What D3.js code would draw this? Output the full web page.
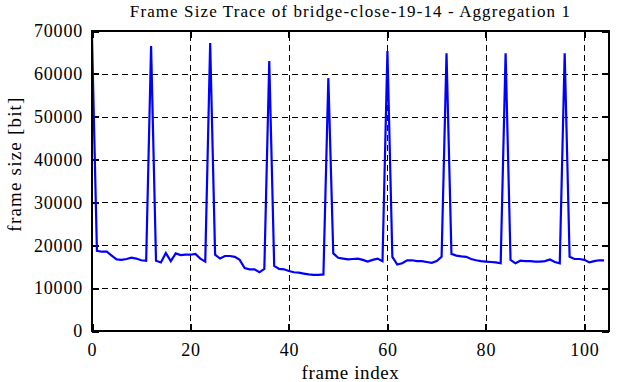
<!DOCTYPE html>
<meta charset="utf-8">
<style>
body{margin:0;background:#fff;}
text{font-family:"Liberation Serif","Times New Roman",serif;fill:#000;}
.grid line{stroke:#000;stroke-width:1px;stroke-dasharray:6,4;shape-rendering:crispEdges;}
.axis path{display:none;}
.axis line{stroke:#000;stroke-width:2px;shape-rendering:crispEdges;}
.axis text{font-size:18px;letter-spacing:0.8px;}
.frame{fill:none;stroke:#000;stroke-width:2px;shape-rendering:crispEdges;}
.trace{fill:none;stroke:#0000ff;stroke-width:2.2px;stroke-linejoin:miter;}
</style>
<body>
<script src="https://d3js.org/d3.v7.min.js"></script>
<script>

// frame sizes in bit, one per frame index 0..104
var frameSize=[
68500,18700,18500,18500,17600,16700,16600,16800,17100,16900,16500,16400,
66500,16400,16000,18200,16300,18100,17700,17800,17800,18000,16900,16200,
67200,17800,16900,17500,17500,17300,16600,14700,14400,14400,13700,14500,
63000,15200,14500,14400,14000,13700,13600,13400,13200,13100,13100,13200,
59000,18100,17100,16900,16700,16800,16900,16600,16200,16600,16900,16300,
65300,17300,15500,15800,16500,16500,16300,16300,16100,15900,16300,17300,
64800,18000,17600,17400,17300,16800,16500,16300,16200,16100,16000,15800,
64800,16600,15800,16400,16300,16300,16200,16200,16300,16700,16100,15800,
64800,17300,16800,16800,16600,16000,16300,16500,16500
];
var xTicks=[0,20,40,60,80,100];
var yTicks=[0,10000,20000,30000,40000,50000,60000,70000];

var W=627,H=382;
var m={left:92,right:18,top:31,bottom:51};

var svg=d3.select("body").append("svg").attr("width",W).attr("height",H);

var x=d3.scaleLinear().domain([0,105]).range([m.left,W-m.right]);
var y=d3.scaleLinear().domain([0,70000]).range([H-m.bottom,m.top]);

// dashed grid
var grid=svg.append("g").attr("class","grid");
grid.selectAll(".gx").data(xTicks.slice(1)).enter().append("line")
	.attr("x1",d=>Math.round(x(d))+0.5).attr("x2",d=>Math.round(x(d))+0.5)
	.attr("y1",y(0)).attr("y2",y(70000));
grid.selectAll(".gy").data(yTicks.slice(1,-1)).enter().append("line")
	.attr("y1",d=>Math.round(y(d))+0.5).attr("y2",d=>Math.round(y(d))+0.5)
	.attr("x1",x(0)).attr("x2",x(105));

// inside ticks on all four sides
svg.append("g").attr("class","axis").attr("transform","translate("+x(0)+",0)")
	.call(d3.axisLeft(y).tickValues(yTicks).tickSizeInner(-7).tickSizeOuter(0).tickPadding(9).tickFormat(d3.format("d")));
svg.append("g").attr("class","axis").attr("transform","translate("+x(105)+",0)")
	.call(d3.axisRight(y).tickValues(yTicks).tickSizeInner(-7).tickSizeOuter(0).tickFormat(""));
svg.append("g").attr("class","axis").attr("transform","translate(0,"+y(0)+")")
	.call(d3.axisBottom(x).tickValues(xTicks).tickSizeInner(-7).tickSizeOuter(0).tickPadding(12).tickFormat(d3.format("d")));
svg.append("g").attr("class","axis").attr("transform","translate(0,"+y(70000)+")")
	.call(d3.axisTop(x).tickValues(xTicks).tickSizeInner(-7).tickSizeOuter(0).tickFormat(""));

// trace
var line=d3.line().x((d,i)=>x(i)).y(d=>y(d));
svg.append("path").attr("class","trace").attr("d",line(frameSize));

svg.append("rect").attr("class","frame")
	.attr("x",x(0)).attr("y",y(70000))
	.attr("width",x(105)-x(0)).attr("height",y(0)-y(70000));

// titles
svg.append("text").attr("x",(x(0)+x(105))/2).attr("y",17)
	.style("text-anchor","middle").style("font-size","17px").style("letter-spacing","1.1px")
	.text("Frame Size Trace of bridge-close-19-14 - Aggregation 1");
svg.append("text").attr("x",(x(0)+x(105))/2).attr("y",379)
	.style("text-anchor","middle").style("font-size","19px").style("letter-spacing","0.6px")
	.text("frame index");
svg.append("text").attr("transform","translate(21,164) rotate(-90)")
	.style("text-anchor","middle").style("font-size","19px").style("letter-spacing","1.2px")
	.text("frame size [bit]");
</script>
</body>
</html>
